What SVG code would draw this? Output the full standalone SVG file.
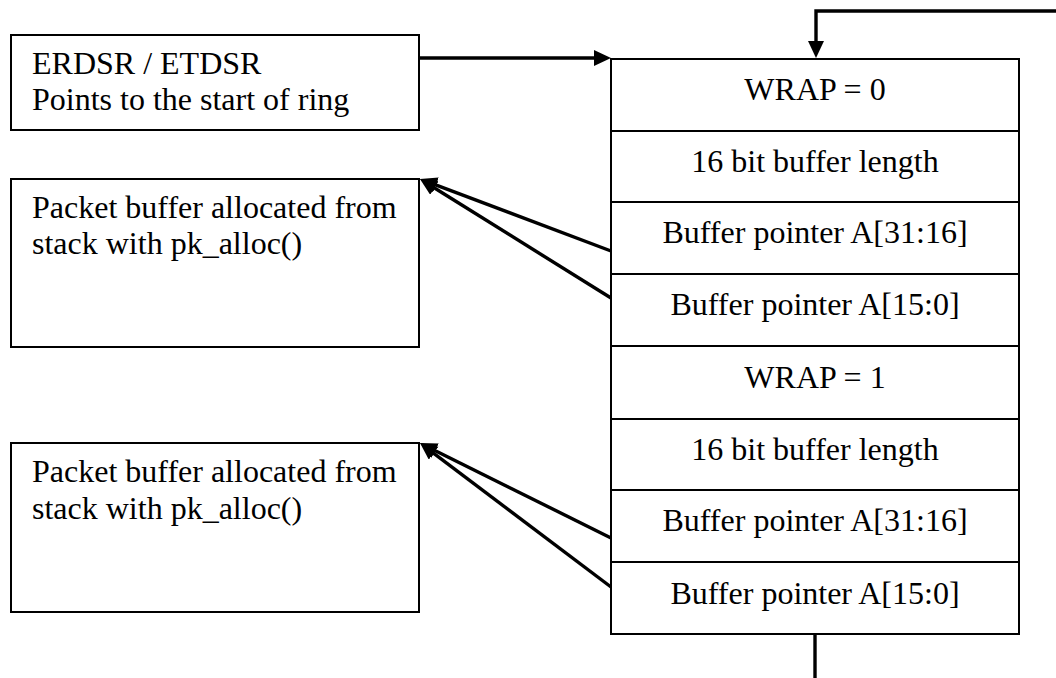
<svg xmlns="http://www.w3.org/2000/svg" width="1056" height="678" viewBox="0 0 1056 678">
  <style>
    .box { fill: #ffffff; stroke: #000000; stroke-width: 2; }
    .sep { stroke: #000000; stroke-width: 2; }
    .wire { fill: none; stroke: #000000; stroke-width: 3.4; }
    .lbl { font-family: "Liberation Serif", "Times New Roman", serif; font-size: 32px; fill: #000000; }
    .mid { text-anchor: middle; }
  </style>
  <defs>
    <marker id="head" markerUnits="userSpaceOnUse" markerWidth="18" markerHeight="18" refX="6" refY="8" orient="auto">
      <path d="M0,0 L17,8 L0,16 Z" fill="#000000"/>
    </marker>
  </defs>

  <rect width="1056" height="678" fill="#ffffff"/>

  <!-- descriptor start register -->
  <g id="node-dsr">
    <rect class="box" x="11" y="35" width="408" height="95"/>
    <text class="lbl" x="32" y="74">ERDSR / ETDSR</text>
    <text class="lbl" x="32" y="110">Points to the start of ring</text>
  </g>

  <!-- packet buffer for first descriptor -->
  <g id="node-buffer-1">
    <rect class="box" x="11" y="179" width="408" height="168"/>
    <text class="lbl" x="32" y="218">Packet buffer allocated from</text>
    <text class="lbl" x="32" y="254">stack with pk_alloc()</text>
  </g>

  <!-- packet buffer for second descriptor -->
  <g id="node-buffer-2">
    <rect class="box" x="11" y="443" width="408" height="169"/>
    <text class="lbl" x="32" y="482">Packet buffer allocated from</text>
    <text class="lbl" x="32" y="519">stack with pk_alloc()</text>
  </g>

  <!-- descriptor ring -->
  <g id="node-ring">
    <rect class="box" x="611" y="59" width="408" height="575"/>
    <line class="sep" x1="611" y1="131" x2="1019" y2="131"/>
    <line class="sep" x1="611" y1="202" x2="1019" y2="202"/>
    <line class="sep" x1="611" y1="274" x2="1019" y2="274"/>
    <line class="sep" x1="611" y1="346" x2="1019" y2="346"/>
    <line class="sep" x1="611" y1="419" x2="1019" y2="419"/>
    <line class="sep" x1="611" y1="490" x2="1019" y2="490"/>
    <line class="sep" x1="611" y1="562" x2="1019" y2="562"/>
    <text class="lbl mid" x="815" y="100">WRAP = 0</text>
    <text class="lbl mid" x="815" y="172">16 bit buffer length</text>
    <text class="lbl mid" x="815" y="243">Buffer pointer A[31:16]</text>
    <text class="lbl mid" x="815" y="315">Buffer pointer A[15:0]</text>
    <text class="lbl mid" x="815" y="388">WRAP = 1</text>
    <text class="lbl mid" x="815" y="460">16 bit buffer length</text>
    <text class="lbl mid" x="815" y="531">Buffer pointer A[31:16]</text>
    <text class="lbl mid" x="815" y="604">Buffer pointer A[15:0]</text>
  </g>

  <!-- connectors -->
  <g id="connectors">
    <line class="wire" x1="419" y1="58" x2="600" y2="58" marker-end="url(#head)"/>
    <path class="wire" d="M1056,11 H816 V47" marker-end="url(#head)"/>
    <line class="wire" x1="611" y1="251" x2="430.3" y2="182.9" marker-end="url(#head)"/>
    <line class="wire" x1="611" y1="298" x2="429.3" y2="184.8" marker-end="url(#head)"/>
    <line class="wire" x1="611" y1="538" x2="429.8" y2="447.9" marker-end="url(#head)"/>
    <line class="wire" x1="611" y1="587" x2="428.8" y2="449.6" marker-end="url(#head)"/>
    <line class="wire" x1="815" y1="634" x2="815" y2="678"/>
  </g>
</svg>
